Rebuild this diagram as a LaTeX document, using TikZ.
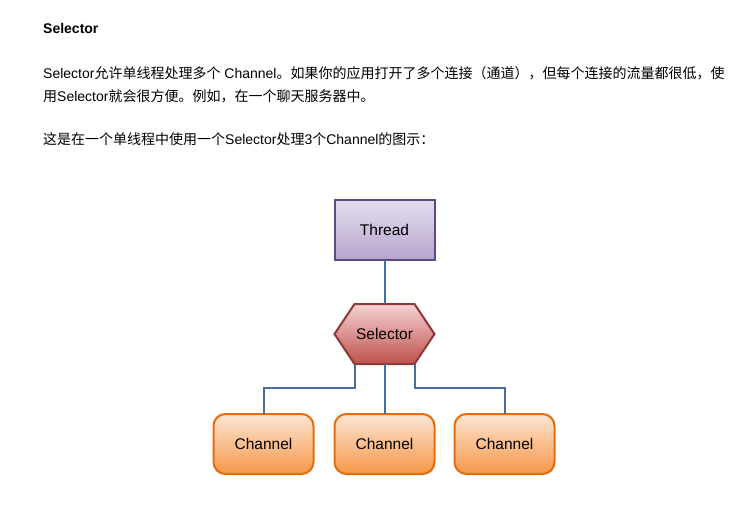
\documentclass[tikz,border=0pt]{standalone}
\usepackage{fontspec}
\usepackage{xcolor}
\usepackage{tikz}
\usetikzlibrary{shapes.symbols, positioning, calc}
\setmainfont{Liberation Sans}
\newfontfamily\cjk{Noto Sans CJK SC}
\definecolor{threadtop}{RGB}{229, 222, 238}
\definecolor{threadbottom}{RGB}{180, 164, 204}
\definecolor{threadborder}{RGB}{94, 73, 128}
\definecolor{selectortop}{RGB}{244, 210, 210}
\definecolor{selectorbottom}{RGB}{192, 80, 77}
\definecolor{selectorborder}{RGB}{140, 56, 54}
\definecolor{channeltop}{RGB}{253, 230, 212}
\definecolor{channelbottom}{RGB}{246, 150, 72}
\definecolor{channelborder}{RGB}{228, 108, 10}
\definecolor{wireblue}{RGB}{70, 110, 158}
\tikzset{
    txt/.style={anchor=base west, inner sep=0pt, font=\fontsize{14}{17}\selectfont},
    threadbox/.style={draw=threadborder, line width=2pt, top color=threadtop, bottom color=threadbottom,
          minimum width=100pt, minimum height=60pt, inner sep=0pt, outer sep=0pt, font=\fontsize{15.5}{18}\selectfont},
    selectorhex/.style={shape=signal, signal to=west and east, signal pointer angle=112.6,
          draw=selectorborder, line width=2pt, top color=selectortop, bottom color=selectorbottom,
          minimum width=100pt, minimum height=60pt, inner sep=0pt, outer sep=0pt, font=\fontsize{15.5}{18}\selectfont},
    channelbox/.style={draw=channelborder, line width=2pt, rounded corners=12pt,
          top color=channeltop, bottom color=channelbottom,
          minimum width=100pt, minimum height=60pt, inner sep=0pt, outer sep=0pt, font=\fontsize{15.5}{18}\selectfont},
    wire/.style={draw=wireblue, line width=2pt}
}
\begin{document}
\begin{tikzpicture}[x=1pt, y=-1pt]
    \fill[white] (0,0) rectangle (732,506);
    \useasboundingbox (0,0) rectangle (732,506);

    \node[txt, font=\fontsize{14}{17}\selectfont\bfseries] (title) at (43,34) {Selector};
    \node[txt] (intro1) at (43,78) {Selector{\cjk 允许单线程处理多个} Channel{\cjk 。如果你的应用打开了多个连接（通道），但每个连接的流量都很低，使}};
    \node[txt] (intro2) at (43,101) {{\cjk 用}Selector{\cjk 就会很方便。例如，在一个聊天服务器中。}};
    \node[txt] (caption) at (43,144) {{\cjk 这是在一个单线程中使用一个}Selector{\cjk 处理}3{\cjk 个}Channel{\cjk 的图示：}};

    \node[threadbox] (thread) at (384.5,230) {Thread};
    \node[selectorhex, below=44pt of thread] (selector) {Selector};
    \node[channelbox, below=50pt of selector] (channel2) {Channel};
    \node[channelbox, left=21pt of channel2] (channel1) {Channel};
    \node[channelbox, right=20pt of channel2] (channel3) {Channel};

    \draw[wire] (thread.south) -- (selector.north);
    \draw[wire] ([xshift=-30pt]selector.south) -- ++(0,24) -| (channel1.north);
    \draw[wire] (selector.south) -- (channel2.north);
    \draw[wire] ([xshift=30pt]selector.south) -- ++(0,24) -| (channel3.north);
\end{tikzpicture}
\end{document}
